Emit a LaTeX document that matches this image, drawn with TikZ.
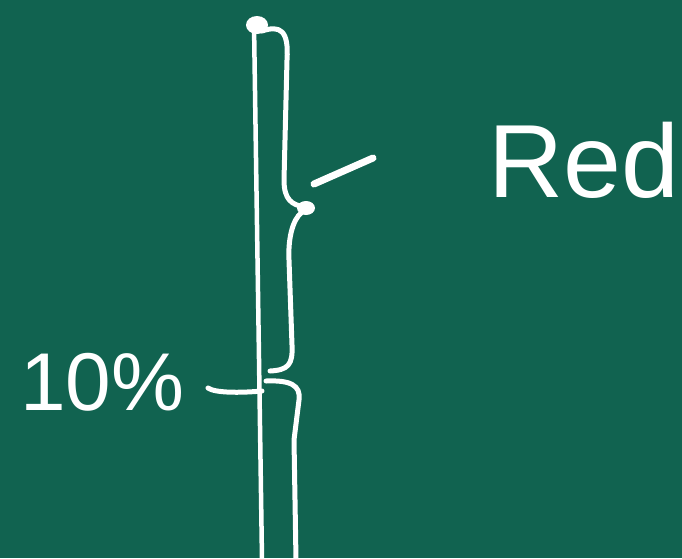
\documentclass[tikz,border=0pt]{standalone}
\usepackage{fontspec}
\setmainfont{Liberation Sans}
\definecolor{board}{RGB}{17,99,80}
\begin{document}
\begin{tikzpicture}[x=1pt,y=-1pt,
    chalk/.style={draw=white,line width=5pt,line cap=round,line join=round},
    chalktext/.style={text=white,inner sep=0pt}]
    % Доска
    \fill[board] (0,0) rectangle (682,558);
    \useasboundingbox (0,0) rectangle (682,558);
    % Ось
    \draw[chalk,line width=4.5pt] (254,24) -- (262,560);
    \fill[white] (257,25) ellipse (11 and 9);
    % Верхняя скобка
    \draw[chalk] (262,31) .. controls (280,25) and (289,30) .. (287,60)
        -- (284,180) .. controls (284,200) and (292,205) .. (305,207);
    \fill[white] (306,208) ellipse (9 and 7);
    \draw[chalk] (302,212) .. controls (292,220) and (288,240) .. (289,260)
        -- (292,345) .. controls (293,365) and (288,370) .. (270,371);
    % Нижняя скобка
    \draw[chalk] (266,381) .. controls (290,380) and (301,385) .. (299,400)
        -- (294,440) -- (296,560);
    % Засечки
    \draw[chalk,line width=7pt] (314,184) -- (373,158);
    \draw[chalk] (208,388) .. controls (215,393) and (240,393) .. (262,391);
    % Подписи
    \node[chalktext,anchor=base west,font=\fontsize{104}{104}\selectfont] (red) at (488,197) {Red};
    \node[chalktext,anchor=base west,font=\fontsize{82}{82}\selectfont] (pct) at (20,410) {10\%};
\end{tikzpicture}
\end{document}
